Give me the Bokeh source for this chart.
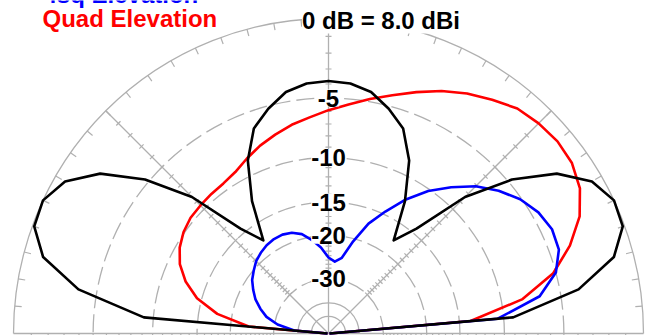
import numpy as np
from bokeh.plotting import figure
from bokeh.models import Range1d
from bokeh.core.properties import value
from bokeh.embed import file_html
from bokeh.resources import INLINE

# ---- data (elevation angle in degrees, relative gain in dB) ----
angles = list(range(0, 181, 5))
dipole_db = [-99, -9.1, -3.7, -1.1, -0.1, 0.0, -0.6, -2.1, -4.7, -8.4, -14.3, -17.5, -12.4,
             -8.6, -6.3, -5.2, -4.3, -3.9, -3.8, -3.9, -4.3, -5.2, -6.3, -8.6, -12.4, -17.5,
             -14.3, -8.4, -4.7, -2.1, -0.6, 0.0, -0.1, -1.1, -3.7, -9.1, -99]
quad_db = [-99, -13.6, -8.1, -5.2, -3.5, -2.2, -1.4, -1.0, -0.9, -1.0, -1.2, -1.7, -2.2,
           -2.8, -3.5, -4.2, -4.8, -5.4, -5.9, -6.4, -6.8, -7.3, -7.8, -8.4, -9.0, -9.3,
           -9.4, -9.5, -9.6, -9.9, -10.4, -11.2, -12.5, -14.4, -17.6, -23.5, -99]
foursq_db = [-99, -10.6, -6.6, -5.0, -4.3, -4.2, -4.5, -5.1, -6.0, -7.1, -8.6, -10.2, -12.2,
             -14.6, -17.0, -20.5, -24.2, -25.3, -24.4, -22.2, -20.6, -19.2, -18.5, -18.2,
             -18.2, -18.4, -18.8, -19.3, -20.1, -20.9, -22.1, -23.4, -25.2, -27.3, -31.0,
             -38.0, -99]
ring_db = [-5, -10, -15, -20, -30]
ring_labels = ["-5", "-10", "-15", "-20", "-30"]
inner_ring_db = [-40, -50]
title_text = "0 dB = 8.0 dBi"
legend_texts = ["4sq Elevation", "Quad Elevation"]
legend_colors = ["#0000ff", "#ff0000"]

GRID = "#b0b0b0"
FONT = value("Liberation Sans")
FS = "24px"
PX = 315.0  # pixels per unit radius
CX, CY = 328, 333  # centre of the polar plot in canvas pixels


def rad(db):
    """ARRL log-periodic scale: radius shrinks by 0.89 every 2 dB."""
    return 0.89 ** (-np.asarray(db, dtype=float) / 2.0)


W, H = 647, 335
p = figure(width=W, height=H, output_backend="svg", toolbar_location=None,
           x_range=Range1d(-CX / PX, (W - CX) / PX),
           y_range=Range1d(-(H - CY) / PX, CY / PX),
           x_axis_location=None, y_axis_location=None, min_border=0)
p.grid.visible = False
p.outline_line_color = None
p.background_fill_color = "white"

# ---- grid ----
p.arc(x=0, y=0, radius=1.0, start_angle=0, end_angle=np.pi, line_color=GRID, line_width=1.3)
p.arc(x=[0] * len(ring_db), y=[0] * len(ring_db), radius=list(rad(ring_db)), start_angle=0,
      end_angle=np.pi, line_color=GRID, line_width=1.3, line_dash="18 6")
p.arc(x=[0] * 2, y=[0] * 2, radius=list(rad(inner_ring_db)), start_angle=0,
      end_angle=np.pi, line_color=GRID, line_width=1.3)
# baseline
p.segment(x0=[-1.0], y0=[0], x1=[1.0], y1=[0], line_color=GRID, line_width=1.3)
# radial lines
for phi in (45, 90, 135):
    a = np.radians(phi)
    p.segment(x0=[0], y0=[0], x1=[np.cos(a)], y1=[np.sin(a)], line_color=GRID, line_width=1.3)
# ticks along radial lines (every dB)
tick_db = np.arange(-1, -31, -1)
tr = rad(tick_db)
h = 3.0 / PX
x0s, y0s, x1s, y1s = [], [], [], []
for phi in (45, 90, 135):
    a = np.radians(phi)
    cx, cy = tr * np.cos(a), tr * np.sin(a)
    nx, ny = -np.sin(a), np.cos(a)
    x0s += list(cx - h * nx); y0s += list(cy - h * ny)
    x1s += list(cx + h * nx); y1s += list(cy + h * ny)
# baseline ticks (downward)
for s in (-1, 1):
    x0s += list(s * tr); y0s += [0] * len(tr)
    x1s += list(s * tr); y1s += [-5 / PX] * len(tr)
# outer circle ticks every 5 degrees (inward)
for th in range(5, 180, 5):
    a = np.radians(th)
    x0s.append(np.cos(a)); y0s.append(np.sin(a))
    x1s.append((1 - 7 / PX) * np.cos(a)); y1s.append((1 - 7 / PX) * np.sin(a))
p.segment(x0=x0s, y0=y0s, x1=x1s, y1=y1s, line_color=GRID, line_width=1.2)

# ---- patterns ----
th = np.radians(angles)
for db, col in ((quad_db, "#ff0000"), (foursq_db, "#0000ff"), (dipole_db, "#000000")):
    r = rad(db)
    p.line(r * np.cos(th), r * np.sin(th), line_color=col, line_width=2.6, line_join="round")

# ---- texts ----
p.text(x=[0] * len(ring_db), y=list(rad(ring_db)), text=ring_labels, text_align="center",
       text_baseline="middle", text_font=FONT, text_font_style="bold", text_font_size=FS,
       text_color="black", background_fill_color="white")
p.text(x=[52.5 / PX], y=[313.5 / PX], text=[title_text], text_align="center",
       text_baseline="middle", text_font=FONT, text_font_style="bold", text_font_size=FS,
       text_color="black", background_fill_color="white")
p.text(x=[-285 / PX, -286 / PX], y=[339 / PX, 314.7 / PX], text=legend_texts,
       text_align="left", text_baseline="alphabetic", text_font=FONT,
       text_font_style="bold", text_font_size=FS, text_color=legend_colors)

open("out.html", "w").write(file_html(p, INLINE))
